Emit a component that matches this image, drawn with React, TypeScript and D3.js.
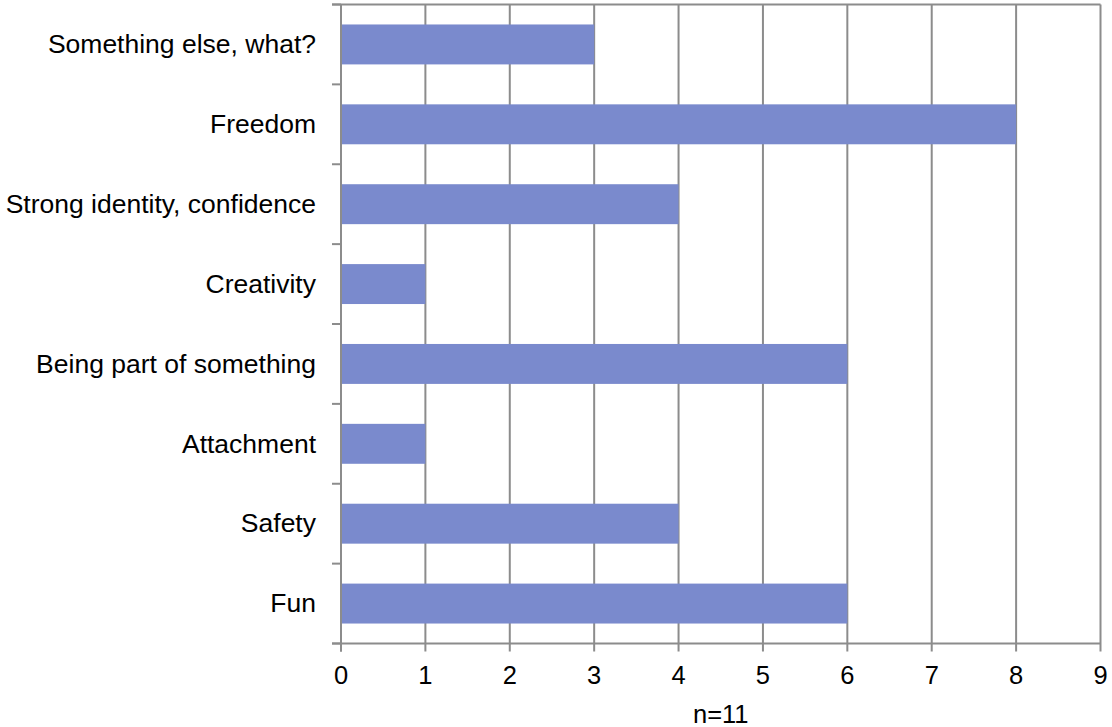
import React from "react";
import * as d3 from "d3";

const categories = [
  "Something else, what?",
  "Freedom",
  "Strong identity, confidence",
  "Creativity",
  "Being part of something",
  "Attachment",
  "Safety",
  "Fun",
];
const values = [3, 8, 4, 1, 6, 1, 4, 6];
const xTicks = [0, 1, 2, 3, 4, 5, 6, 7, 8, 9];
const xTitle = "n=11";

const W = 1112;
const H = 727;
const left = 341;
const right = 1100.5;
const top = 4.5;
const bottom = 643.5;
const gridColor = "#8c8c8c";
const barColor = "#7a8acd";
const font = "'Liberation Sans', Arial, sans-serif";

export default function App() {
  const x = d3.scaleLinear().domain([0, 9]).range([left, right]);
  const y = d3
    .scaleBand<string>()
    .domain(categories)
    .range([top, bottom])
    .paddingInner(0.5)
    .paddingOuter(0.25);
  const step = y.step();
  const boundaries = d3.range(categories.length + 1).map((i) => top + i * step);

  return (
    <svg
      width={W}
      height={H}
      style={{ position: "absolute", left: 0, top: 0, background: "#fff" }}
    >
      {xTicks.map((t) => (
        <line
          key={"g" + t}
          x1={x(t)}
          x2={x(t)}
          y1={top}
          y2={bottom + 8}
          stroke={gridColor}
          strokeWidth={2}
        />
      ))}
      <line x1={left - 9} x2={right} y1={top} y2={top} stroke={gridColor} strokeWidth={2} />
      {categories.map((c, i) => (
        <rect
          key={c}
          x={x(0)}
          y={y(c)!}
          width={x(values[i]) - x(0)}
          height={y.bandwidth()}
          fill={barColor}
        />
      ))}
      <line x1={left} x2={left} y1={top} y2={bottom + 8} stroke={gridColor} strokeWidth={2} />
      {boundaries.map((b, i) => (
        <line key={"t" + i} x1={left - 9} x2={left} y1={b} y2={b} stroke={gridColor} strokeWidth={2} />
      ))}
      <line x1={left - 9} x2={right} y1={bottom} y2={bottom} stroke={gridColor} strokeWidth={2} />
      {xTicks.map((t) => (
        <text
          key={"l" + t}
          x={x(t)}
          y={684}
          textAnchor="middle"
          fontFamily={font}
          fontSize={25.5}
          fill="#000"
        >
          {t}
        </text>
      ))}
      {categories.map((c) => (
        <text
          key={"c" + c}
          x={left - 25}
          y={y(c)! + y.bandwidth() / 2}
          dy="0.33em"
          textAnchor="end"
          fontFamily={font}
          fontSize={26.5}
          fill="#000"
        >
          {c}
        </text>
      ))}
      <text
        x={(left + right) / 2}
        y={723}
        textAnchor="middle"
        fontFamily={font}
        fontSize={25.5}
        fill="#000"
      >
        {xTitle}
      </text>
    </svg>
  );
}
